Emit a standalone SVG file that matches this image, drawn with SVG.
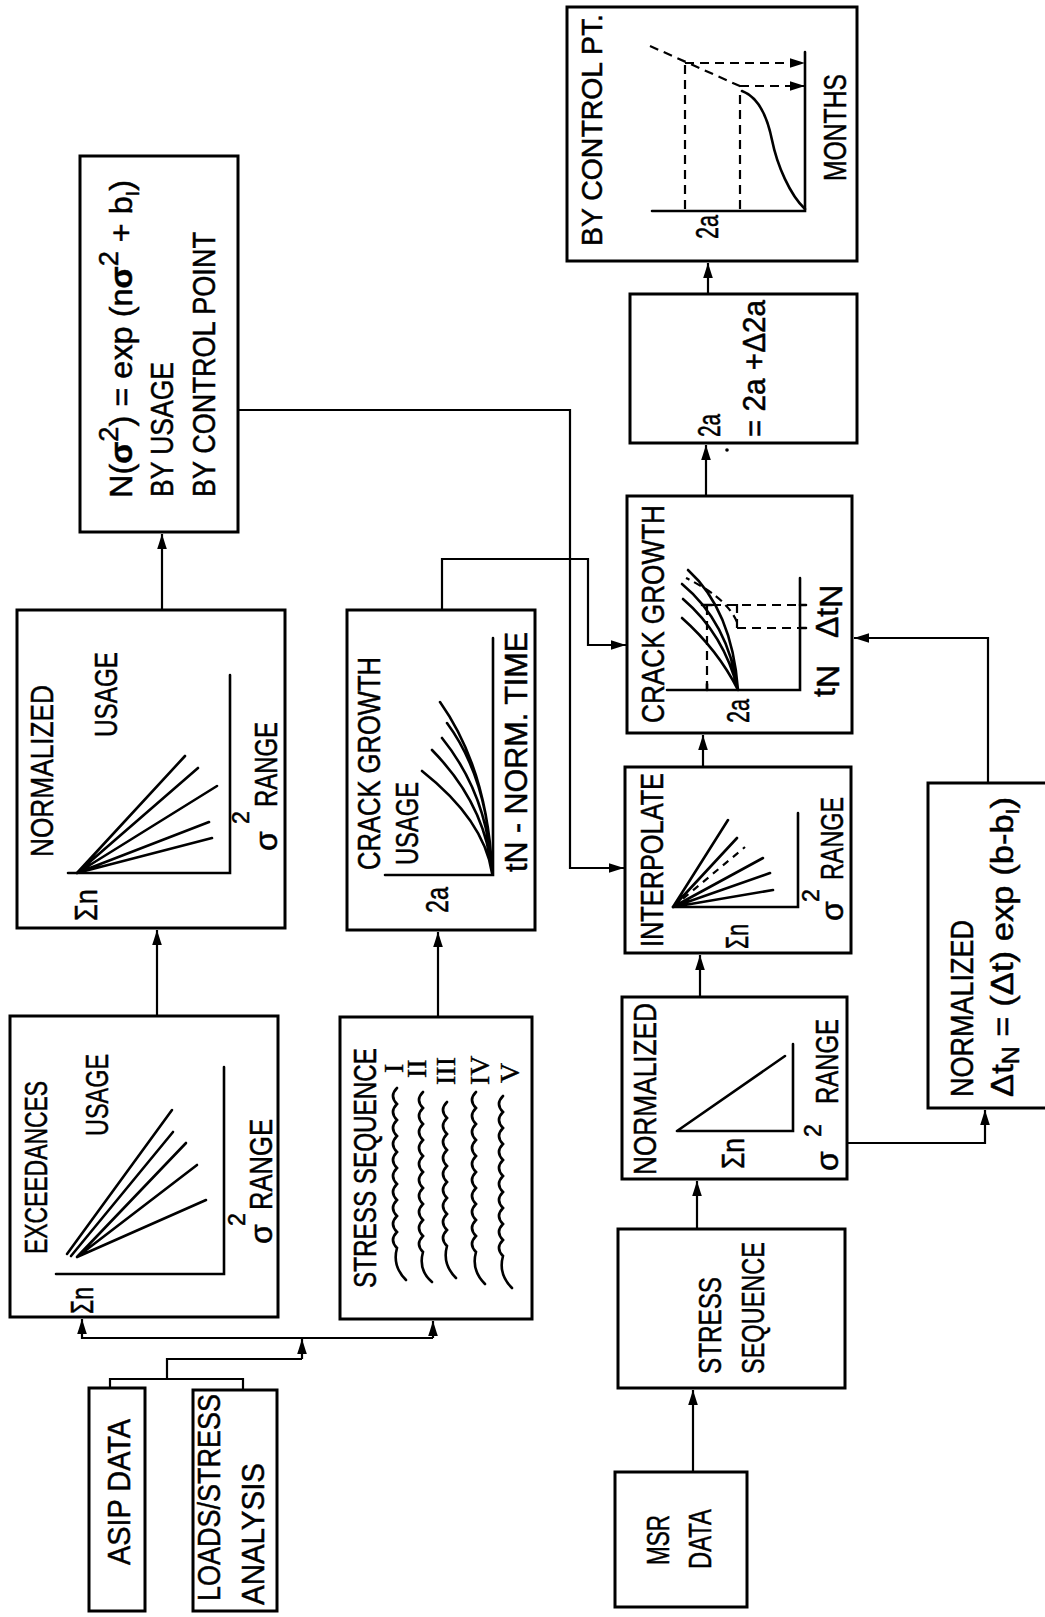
<svg xmlns="http://www.w3.org/2000/svg" width="1045" height="1617" viewBox="0 0 1045 1617">
<defs>
<marker id="ah" viewBox="0 0 10 10" refX="10" refY="5" markerWidth="15" markerHeight="15" markerUnits="userSpaceOnUse" orient="auto"><path d="M0,1.8 L10,5 L0,8.2 z" fill="#000"/></marker>
</defs>
<style>
.box{fill:#fff;stroke:#000;stroke-width:3}
.t{font-family:"Liberation Sans Narrow","Liberation Sans",Arial,sans-serif;font-size:32px;fill:#000;stroke:#000;stroke-width:0.5}
.s{font-size:23px}
.rn{font-family:"Liberation Serif","Times New Roman",serif;font-size:28px;fill:#000;stroke:#000;stroke-width:0.4}
.g{fill:none;stroke:#000;stroke-width:2.6;stroke-linecap:round}
.d{fill:none;stroke:#000;stroke-width:2.2;stroke-dasharray:9 6}
.c{fill:none;stroke:#000;stroke-width:2.2}
</style>
<rect width="1045" height="1617" fill="#fff"/>

<!-- connectors -->
<g id="connectors">
<path class="c" d="M157 1016 V930" marker-end="url(#ah)"/>
<path class="c" d="M162 610 V534" marker-end="url(#ah)"/>
<path class="c" d="M238 410 H570 V868 H624" marker-end="url(#ah)"/>
<path class="c" d="M438 1017 V932" marker-end="url(#ah)"/>
<path class="c" d="M442 610 V559 H588 V645 H626" marker-end="url(#ah)"/>
<path class="c" d="M703 767 V735" marker-end="url(#ah)"/>
<path class="c" d="M706 496 V445" marker-end="url(#ah)"/>
<path class="c" d="M708 294 V263" marker-end="url(#ah)"/>
<path class="c" d="M700 997 V955" marker-end="url(#ah)"/>
<path class="c" d="M697 1229 V1181" marker-end="url(#ah)"/>
<path class="c" d="M693 1472 V1390" marker-end="url(#ah)"/>
<path class="c" d="M847 1143 H985 V1110" marker-end="url(#ah)"/>
<path class="c" d="M988 783 V638 H854" marker-end="url(#ah)"/>
<path class="c" d="M433 1338 H82 V1319" marker-end="url(#ah)"/>
<path class="c" d="M433 1338 V1321" marker-end="url(#ah)"/>
<path class="c" d="M110 1388 V1379 H243 V1390 M167 1379 V1359 H302"/>
<path class="c" d="M302 1359 V1339" marker-end="url(#ah)"/>
</g>

<!-- cumulative exceedances -->
<g id="exceedances">
<rect class="box" x="10" y="1016" width="268" height="301"/>
<text class="t" transform="translate(47,1254) rotate(-90)" textLength="173" lengthAdjust="spacingAndGlyphs">EXCEEDANCES</text>
<text class="t" transform="translate(108,1136) rotate(-90)" textLength="82" lengthAdjust="spacingAndGlyphs">USAGE</text>
<path class="g" d="M56 1274 H224 V1067"/>
<path class="g" d="M67 1254 L172 1110 M71 1256 L173 1132 M77 1257 L186 1143 M77 1257 L197 1165 M77 1257 L206 1200"/>
<text class="t" transform="translate(93,1314) rotate(-90)" textLength="27" lengthAdjust="spacingAndGlyphs">Σn</text>
<text class="t" transform="translate(272,1244) rotate(-90)">σ</text>
<text class="t s" transform="translate(245,1226) rotate(-90)">2</text>
<text class="t" transform="translate(272,1210) rotate(-90)" textLength="91" lengthAdjust="spacingAndGlyphs">RANGE</text>
</g>

<!-- normalized exceedances by usage -->
<g id="normalized-usage">
<rect class="box" x="17" y="610" width="268" height="318"/>
<text class="t" transform="translate(53,857) rotate(-90)" textLength="172" lengthAdjust="spacingAndGlyphs">NORMALIZED</text>
<text class="t" transform="translate(117,737) rotate(-90)" textLength="85" lengthAdjust="spacingAndGlyphs">USAGE</text>
<path class="g" d="M68 873 H230 V675"/>
<path class="g" d="M77 873 L185 756 M77 873 L198 768 M77 873 L217 786 M77 873 L209 822 M77 873 L212 838"/>
<text class="t" transform="translate(97,921) rotate(-90)" textLength="32" lengthAdjust="spacingAndGlyphs">Σn</text>
<text class="t" transform="translate(277,851) rotate(-90)">σ</text>
<text class="t s" transform="translate(249,824) rotate(-90)">2</text>
<text class="t" transform="translate(277,807) rotate(-90)" textLength="85" lengthAdjust="spacingAndGlyphs">RANGE</text>
</g>

<!-- exceedance equation -->
<g id="equation">
<rect class="box" x="80" y="156" width="158" height="376"/>
<text class="t" transform="translate(132,498) rotate(-90)" textLength="318" lengthAdjust="spacingAndGlyphs">N(<tspan font-weight="bold">σ</tspan><tspan dy="-14" font-size="27">2</tspan><tspan dy="14">) = exp (n</tspan><tspan font-weight="bold">σ</tspan><tspan dy="-14" font-size="27">2</tspan><tspan dy="14">   + b</tspan><tspan dy="7" font-size="19">I</tspan><tspan dy="-7">)</tspan></text>
<text class="t" transform="translate(173,497) rotate(-90)" textLength="135" lengthAdjust="spacingAndGlyphs">BY USAGE</text>
<text class="t" transform="translate(215,497) rotate(-90)" textLength="265" lengthAdjust="spacingAndGlyphs">BY CONTROL POINT</text>
</g>

<!-- data sources -->
<g id="asip-data">
<rect class="box" x="89" y="1388" width="56" height="223"/>
<text class="t" transform="translate(130,1565) rotate(-90)" textLength="146" lengthAdjust="spacingAndGlyphs">ASIP DATA</text>
</g>
<g id="loads-stress">
<rect class="box" x="193" y="1390" width="84" height="221"/>
<text class="t" transform="translate(220,1601) rotate(-90)" textLength="207" lengthAdjust="spacingAndGlyphs">LOADS/STRESS</text>
<text class="t" transform="translate(264,1605) rotate(-90)" textLength="142" lengthAdjust="spacingAndGlyphs">ANALYSIS</text>
</g>

<!-- stress sequences per usage -->
<g id="stress-sequence-usage">
<rect class="box" x="340" y="1017" width="192" height="302"/>
<text class="t" transform="translate(376,1288) rotate(-90)" textLength="240" lengthAdjust="spacingAndGlyphs">STRESS SEQUENCE</text>
<text class="rn" transform="translate(403,1073) rotate(-90)">I</text>
<text class="rn" transform="translate(426,1078) rotate(-90)">II</text>
<text class="rn" transform="translate(455,1085) rotate(-90)">III</text>
<text class="rn" transform="translate(489,1085) rotate(-90)">IV</text>
<text class="rn" transform="translate(519,1083) rotate(-90)">V</text>
<g class="g" style="stroke-width:2.6">
<path d="M397 1088 q-8 8 0 16 q-8 8 0 16 q-8 8 0 16 q-8 8 0 16 q-8 8 0 16 q-8 8 0 16 q-8 8 0 16 q-8 8 0 16 q-8 8 0 16 q-8 8 0 16 q-5 18 9 32"/>
<path d="M423 1092 q-8 8 0 16 q-8 8 0 16 q-8 8 0 16 q-8 8 0 16 q-8 8 0 16 q-8 8 0 16 q-8 8 0 16 q-8 8 0 16 q-8 8 0 16 q-8 8 0 16 q-5 18 9 30"/>
<path d="M447 1102 q-8 8 0 16 q-8 8 0 16 q-8 8 0 16 q-8 8 0 16 q-8 8 0 16 q-8 8 0 16 q-8 8 0 16 q-8 8 0 16 q-8 8 0 16 q-5 18 9 32"/>
<path d="M476 1092 q-8 8 0 16 q-8 8 0 16 q-8 8 0 16 q-8 8 0 16 q-8 8 0 16 q-8 8 0 16 q-8 8 0 16 q-8 8 0 16 q-8 8 0 16 q-8 8 0 16 q-5 18 9 32"/>
<path d="M503 1096 q-8 8 0 16 q-8 8 0 16 q-8 8 0 16 q-8 8 0 16 q-8 8 0 16 q-8 8 0 16 q-8 8 0 16 q-8 8 0 16 q-8 8 0 16 q-8 8 0 16 q-5 18 9 32"/>
</g>
</g>

<!-- crack growth by usage -->
<g id="crack-growth-usage">
<rect class="box" x="347" y="610" width="188" height="320"/>
<text class="t" transform="translate(380,870) rotate(-90)" textLength="213" lengthAdjust="spacingAndGlyphs">CRACK GROWTH</text>
<text class="t" transform="translate(418,865) rotate(-90)" textLength="83" lengthAdjust="spacingAndGlyphs">USAGE</text>
<path class="g" d="M385 875 H493 V638"/>
<path class="g" d="M492 873 Q488 770 440 702 M492 873 Q489 780 447 723 M492 873 Q488 795 442 738 M492 873 Q486 805 432 750 M492 873 Q484 820 422 771"/>
<text class="t" transform="translate(448,913) rotate(-90)" textLength="26" lengthAdjust="spacingAndGlyphs">2a</text>
<text class="t" transform="translate(527,872) rotate(-90)" textLength="240" lengthAdjust="spacingAndGlyphs">tN - NORM. TIME</text>
</g>

<!-- MSR data path -->
<g id="msr-data">
<rect class="box" x="615" y="1472" width="132" height="135"/>
<text class="t" transform="translate(669,1565) rotate(-90)" textLength="50" lengthAdjust="spacingAndGlyphs">MSR</text>
<text class="t" transform="translate(711,1569) rotate(-90)" textLength="60" lengthAdjust="spacingAndGlyphs">DATA</text>
</g>
<g id="stress-sequence">
<rect class="box" x="618" y="1229" width="227" height="159"/>
<text class="t" transform="translate(721,1374) rotate(-90)" textLength="97" lengthAdjust="spacingAndGlyphs">STRESS</text>
<text class="t" transform="translate(764,1374) rotate(-90)" textLength="132" lengthAdjust="spacingAndGlyphs">SEQUENCE</text>
</g>
<g id="normalized-msr">
<rect class="box" x="622" y="997" width="225" height="182"/>
<text class="t" transform="translate(656,1175) rotate(-90)" textLength="172" lengthAdjust="spacingAndGlyphs">NORMALIZED</text>
<path class="g" d="M677 1131 H793 V1044 M677 1131 L785 1056"/>
<text class="t" transform="translate(744,1169) rotate(-90)" textLength="31" lengthAdjust="spacingAndGlyphs">Σn</text>
<text class="t" transform="translate(838,1171) rotate(-90)">σ</text>
<text class="t s" transform="translate(821,1137) rotate(-90)">2</text>
<text class="t" transform="translate(838,1104) rotate(-90)" textLength="85" lengthAdjust="spacingAndGlyphs">RANGE</text>
</g>
<g id="interpolate">
<rect class="box" x="625" y="767" width="226" height="186"/>
<text class="t" transform="translate(663,947) rotate(-90)" textLength="174" lengthAdjust="spacingAndGlyphs">INTERPOLATE</text>
<path class="g" d="M673 907 H798 V813"/>
<path class="g" d="M673 907 L728 820 M673 907 L737 838 M673 907 L763 858 M673 907 L770 873 M673 907 L773 890"/>
<path class="d" d="M673 907 L745 847" style="stroke-dasharray:7 6"/>
<text class="t" transform="translate(748,949) rotate(-90)" textLength="25" lengthAdjust="spacingAndGlyphs">Σn</text>
<text class="t" transform="translate(843,921) rotate(-90)">σ</text>
<text class="t s" transform="translate(819,902) rotate(-90)">2</text>
<text class="t" transform="translate(843,880) rotate(-90)" textLength="83" lengthAdjust="spacingAndGlyphs">RANGE</text>
</g>
<g id="crack-growth">
<rect class="box" x="627" y="496" width="225" height="237"/>
<text class="t" transform="translate(664,723) rotate(-90)" textLength="218" lengthAdjust="spacingAndGlyphs">CRACK GROWTH</text>
<path class="g" d="M667 690 H800 V578"/>
<path class="g" d="M738 690 Q732 610 688 570 M738 690 Q728 622 682 584 M738 690 Q724 634 683 599 M738 690 Q718 650 682 618"/>
<path class="d" d="M737 622 Q727 598 686 578" style="stroke-dasharray:8 5"/>
<path class="d" d="M707 690 V605 H800 M737 628 V598 M737 628 H800"/>
<path class="g" d="M707 684 V690 M800 605 H806 M800 628 H806 M702 605 H712"/>
<text class="t" transform="translate(749,723) rotate(-90)" textLength="24" lengthAdjust="spacingAndGlyphs">2a</text>
<text class="t" transform="translate(835,697) rotate(-90)">t<tspan dy="4">N</tspan></text>
<text class="t" transform="translate(838,638) rotate(-90)">Δt<tspan dy="4">N</tspan></text>
</g>
<g id="crack-update">
<rect class="box" x="630" y="294" width="227" height="149"/>
<text class="t" transform="translate(720,437) rotate(-90)" textLength="23" lengthAdjust="spacingAndGlyphs">2a</text>
<text class="t" transform="translate(765,437) rotate(-90)" textLength="137" lengthAdjust="spacingAndGlyphs">= 2a +Δ2a</text>
<circle cx="727" cy="450" r="1.8" fill="#000"/>
</g>
<g id="by-control-point">
<rect class="box" x="567" y="7" width="290" height="254"/>
<text class="t" transform="translate(602,246) rotate(-90)" textLength="232" lengthAdjust="spacingAndGlyphs" style="font-size:30px">BY CONTROL PT.</text>
<path class="g" d="M652 211 H805 V52"/>
<path class="g" d="M805 209 C790 195 777 165 772 140 C767 115 758 97 742 91"/>
<path class="d" d="M685 209 V63 M740 209 V92 M650 46 L742 87"/>
<path class="d" d="M685 63 H805" marker-end="url(#ah)"/>
<path class="d" d="M740 86 H805" marker-end="url(#ah)"/>
<text class="t" transform="translate(718,239) rotate(-90)" textLength="24" lengthAdjust="spacingAndGlyphs">2a</text>
<text class="t" transform="translate(846,181) rotate(-90)" textLength="107" lengthAdjust="spacingAndGlyphs">MONTHS</text>
</g>
<g id="normalized-time">
<rect class="box" x="928" y="783" width="130" height="325"/>
<text class="t" transform="translate(973,1097) rotate(-90)" textLength="177" lengthAdjust="spacingAndGlyphs">NORMALIZED</text>
<text class="t" transform="translate(1013,1097) rotate(-90)" textLength="300" lengthAdjust="spacingAndGlyphs">Δt<tspan dy="6" font-size="23">N</tspan><tspan dy="-6"> = (Δt) exp (b-b</tspan><tspan dy="6" font-size="19">I</tspan><tspan dy="-6">)</tspan></text>
</g>
</svg>
